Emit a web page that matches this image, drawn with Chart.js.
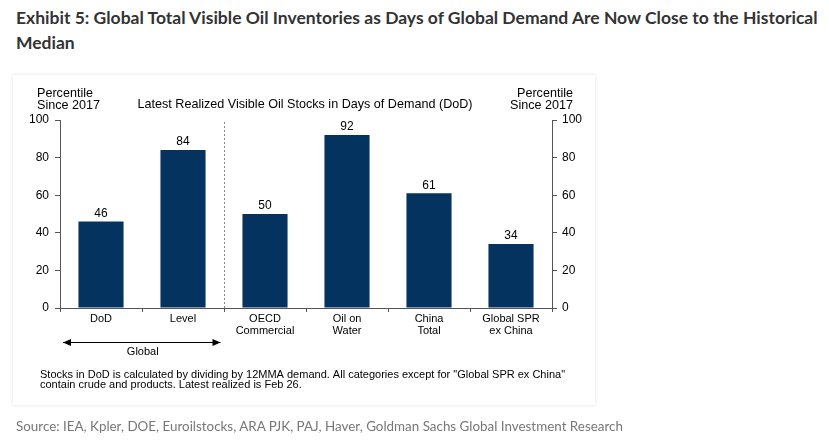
<!DOCTYPE html>
<html>
<head>
<meta charset="utf-8">
<script src="https://cdn.jsdelivr.net/npm/chart.js@4.4.1/dist/chart.umd.min.js"></script>
<style>
  body { margin: 0; background: #fff; width: 829px; height: 443px; overflow: hidden; position: relative; }
  .title { position: absolute; left: 16px; top: 5px; width: 815px; font-family: Lato, sans-serif; font-weight: 700;
           font-size: 17.5px; line-height: 25px; color: #333; }
  .card { position: absolute; left: 13px; top: 75px; width: 582px; height: 330px; background: #fff;
          box-shadow: 0 0 4px rgba(0,0,0,0.12); }
  .source { position: absolute; left: 16px; top: 418px; font-family: Lato, sans-serif; font-size: 13.4px; color: #777; }
  #wrap { position: absolute; left: 0; top: 0; width: 829px; height: 443px; }
</style>
</head>
<body>
<div class="title">Exhibit 5: Global Total Visible Oil Inventories as Days of Global Demand Are Now Close to the Historical Median</div>
<div class="card"></div>
<div id="wrap"><canvas id="myChart" width="829" height="443"></canvas></div>
<div class="source">Source: IEA, Kpler, DOE, Euroilstocks, ARA PJK, PAJ, Haver, Goldman Sachs Global Investment Research</div>
<script>
// chart values
const categories = [['DoD'], ['Level'], ['OECD', 'Commercial'], ['Oil on', 'Water'], ['China', 'Total'], ['Global SPR', 'ex China']];
const percentiles = [46, 84, 50, 92, 61, 34];
const yTicks = [0, 20, 40, 60, 80, 100];

const chartFont = 'Liberation Sans, Arial, sans-serif';
const barColor = '#04335f';

// labels, dashed divider and the "Global" arrow
const extras = {
    id: 'extras',
    afterDatasetsDraw(chart) {
        const ctx = chart.ctx;
        const area = chart.chartArea;
        const x = chart.scales.x;
        ctx.save();
        ctx.fillStyle = '#000';
        ctx.font = '12px ' + chartFont;
        ctx.textAlign = 'center';
        ctx.textBaseline = 'bottom';
        chart.getDatasetMeta(0).data.forEach((bar, i) => {
            ctx.fillText(percentiles[i], bar.x, bar.y - 2);
        });

        // axis headers
        ctx.font = '12.6px ' + chartFont;
        ctx.textBaseline = 'middle';
        ctx.fillText('Latest Realized Visible Oil Stocks in Days of Demand (DoD)', 305, 105);
        ctx.textAlign = 'left';
        ctx.fillText('Percentile', 37, 94);
        ctx.fillText('Since 2017', 37, 106);
        ctx.textAlign = 'right';
        ctx.fillText('Percentile', 573, 94);
        ctx.fillText('Since 2017', 573, 106);

        // divider between global and regional groups
        const divX = Math.round((x.getPixelForValue(1) + x.getPixelForValue(2)) / 2) + 0.5;
        ctx.strokeStyle = '#888';
        ctx.lineWidth = 1;
        ctx.setLineDash([2, 2]);
        ctx.beginPath();
        ctx.moveTo(divX, area.top + 2);
        ctx.lineTo(divX, area.bottom);
        ctx.stroke();
        ctx.setLineDash([]);

        // double arrow under the first two categories
        const ay = 342.5;
        const x0 = area.left + 3, x1 = divX - 4;
        ctx.strokeStyle = '#000';
        ctx.lineWidth = 1.2;
        ctx.beginPath();
        ctx.moveTo(x0, ay);
        ctx.lineTo(x1, ay);
        ctx.stroke();
        ctx.fillStyle = '#000';
        ctx.beginPath();
        ctx.moveTo(x0, ay); ctx.lineTo(x0 + 8, ay - 3.5); ctx.lineTo(x0 + 8, ay + 3.5); ctx.closePath(); ctx.fill();
        ctx.beginPath();
        ctx.moveTo(x1, ay); ctx.lineTo(x1 - 8, ay - 3.5); ctx.lineTo(x1 - 8, ay + 3.5); ctx.closePath(); ctx.fill();
        ctx.font = '11px ' + chartFont;
        ctx.textAlign = 'center';
        ctx.fillText('Global', (x0 + x1) / 2 + 1, 352);

        // footnote
        ctx.textAlign = 'left';
        ctx.fillText('Stocks in DoD is calculated by dividing by 12MMA demand. All categories except for "Global SPR ex China"', 40, 374.5);
        ctx.fillText('contain crude and products. Latest realized is Feb 26.', 40, 384.5);
        ctx.restore();
    }
};

const yAxis = (pos, width, pad) => ({
    position: pos,
    min: 0,
    max: 100,
    afterFit: s => { s.width = width; },
    afterBuildTicks: s => { s.ticks = yTicks.map(v => ({ value: v })); },
    border: { display: true, color: '#555', width: 1 },
    grid: { drawOnChartArea: false, drawTicks: true, tickLength: 5, color: '#555' },
    ticks: { color: '#000', padding: pad, font: { family: chartFont, size: 12 } }
});

const ctx = document.getElementById('myChart').getContext('2d');
new Chart(ctx, {
    type: 'bar',
    data: {
        labels: categories,
        datasets: [{
            data: percentiles,
            backgroundColor: barColor,
            barPercentage: 0.55,
            categoryPercentage: 1.0
        }]
    },
    options: {
        responsive: false,
        animation: false,
        devicePixelRatio: 1,
        layout: { padding: { top: 120, left: 0, right: 0, bottom: 0 } },
        plugins: { legend: { display: false }, tooltip: { enabled: false } },
        scales: {
            x: {
                afterFit: s => { s.height = 135; },
                border: { display: true, color: '#555', width: 1 },
                grid: { drawOnChartArea: false, drawTicks: true, tickLength: 4, color: '#555', offset: true },
                ticks: { color: '#000', padding: 1, maxRotation: 0, autoSkip: false,
                         font: { family: chartFont, size: 11, lineHeight: 1.1 } }
            },
            y: yAxis('left', 60, 6),
            y2: yAxis('right', 277, 5)
        }
    },
    plugins: [extras]
});
</script>
</body>
</html>
